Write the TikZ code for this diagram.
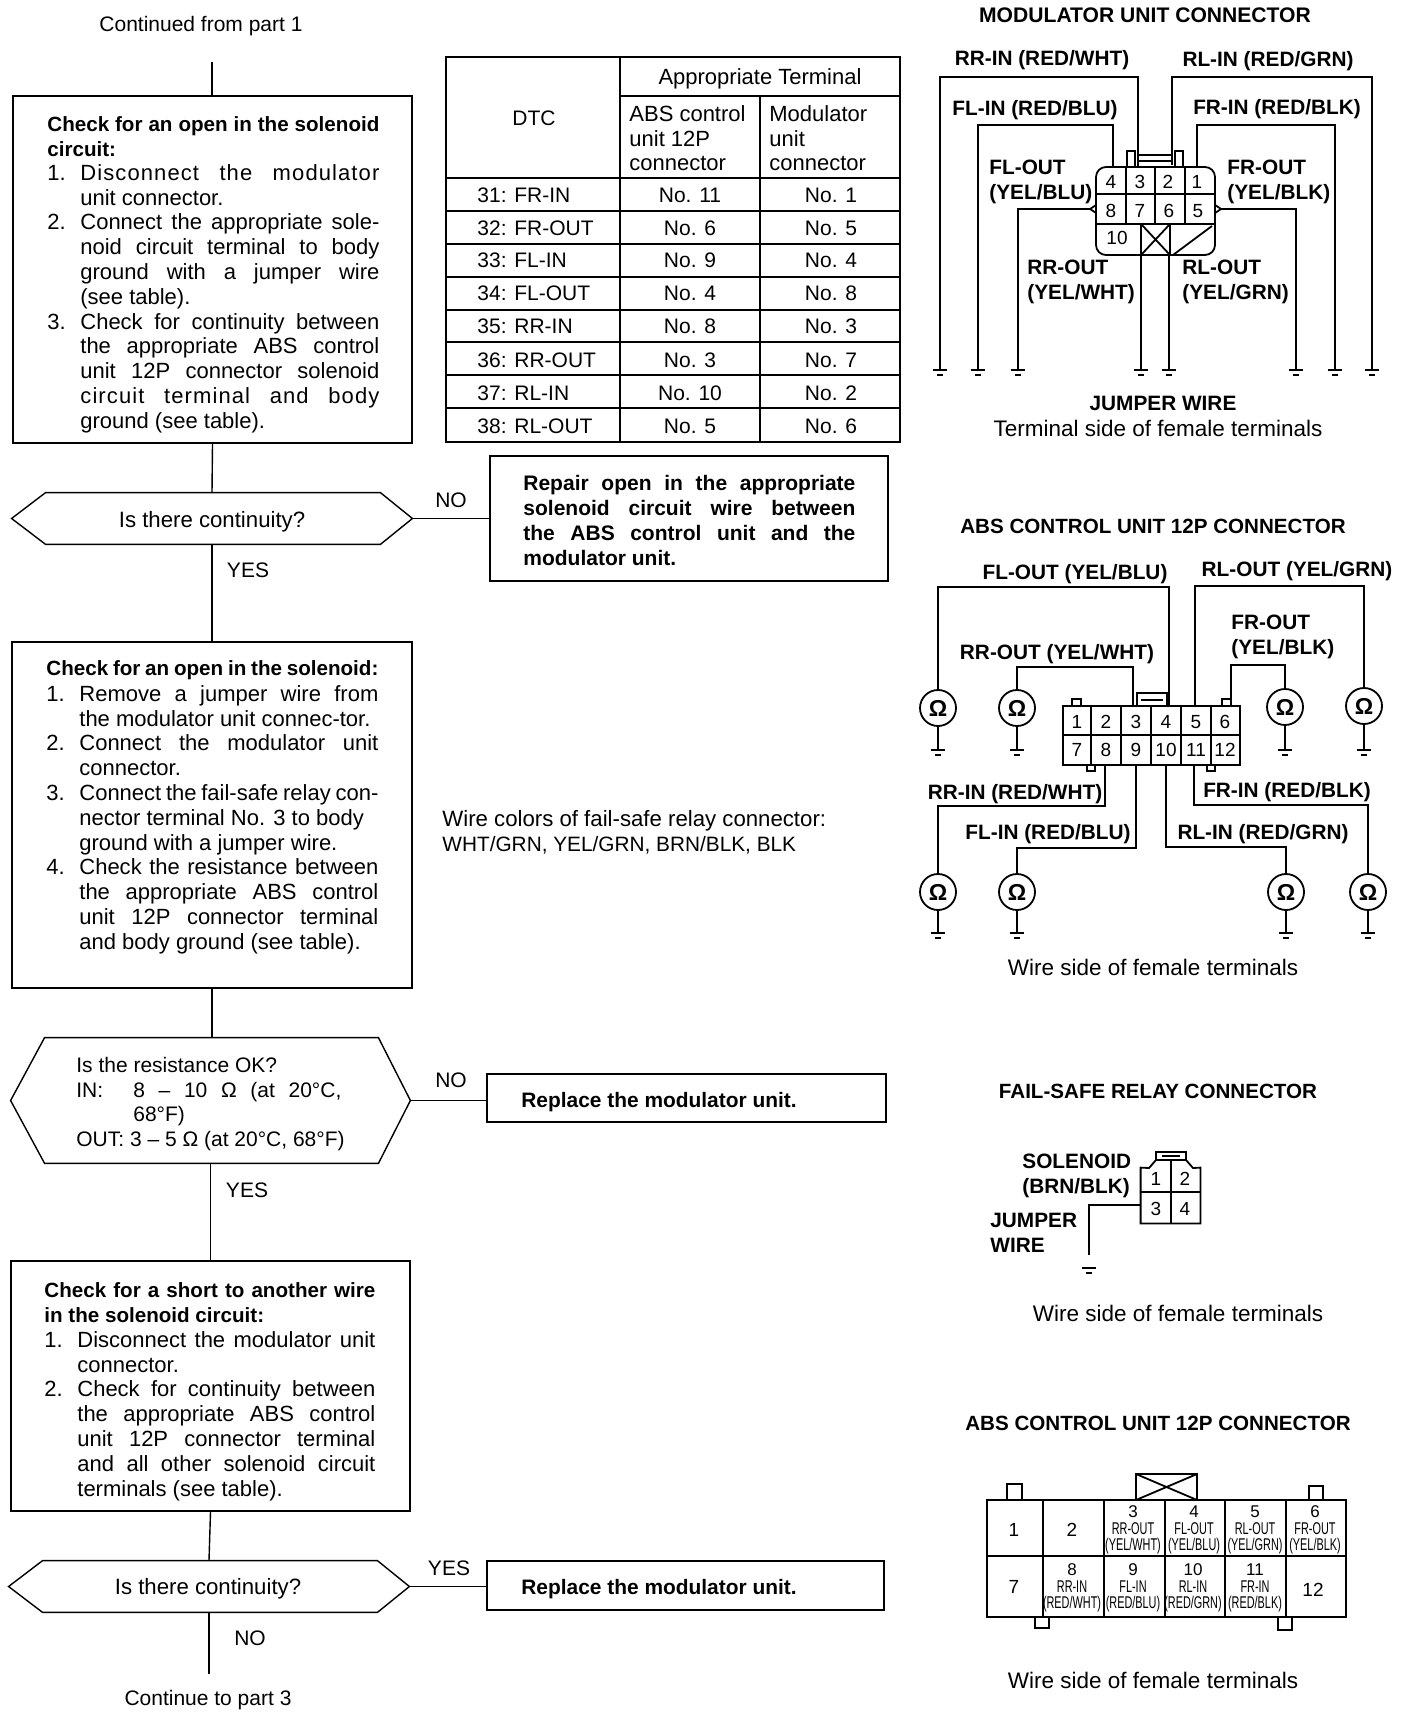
\documentclass[tikz,border=0pt]{standalone}
\usepackage{graphicx}
\usepackage{fontspec}
\setmainfont{Liberation Sans}
\usetikzlibrary{fit}
\newlength\ww \newlength\ii
\setlength\ii{16.5pt}
\newcommand\Lj[1]{\makebox[\ww][s]{#1}}
\newcommand\Ln[2]{\makebox[\ii][l]{#1}\makebox[\dimexpr\ww-\ii\relax][s]{#2}}
\newcommand\Lc[1]{\hspace*{\ii}\makebox[\dimexpr\ww-\ii\relax][s]{#1}}
\newcommand\Ld[1]{\hspace*{\ii}#1}
\newcommand\Sp[1]{{\addfontfeature{LetterSpace=5}#1}}
\tikzset{
  flowbox/.style={draw,line width=.8pt,inner sep=0pt},
  hexnode/.style={inner sep=0pt},
  hextext/.style={inner sep=0pt,align=left,font=\fontsize{11.1}{12.4}\selectfont},
  hexwide/.style={inner sep=0pt,align=left,font=\fontsize{10.5}{12.4}\selectfont},
  flow/.style={line width=.7pt},
  wire/.style={line width=.9pt},
  conn/.style={line width=.9pt},
  body/.style={inner sep=0pt,align=left,anchor=north west,font=\fontsize{11}{12.4}\selectfont},
  bbody/.style={inner sep=0pt,align=left,anchor=north west,font=\fontsize{10.3}{12.4}\selectfont},
  txt/.style={inner sep=0pt,font=\fontsize{10.5}{12}\selectfont},
  hdr/.style={inner sep=0pt,font=\fontsize{11}{12}\selectfont},
  caption/.style={inner sep=0pt,font=\fontsize{11.25}{12}\selectfont},
  lab/.style={inner sep=0pt,yshift=-1pt,font=\fontsize{10.4}{12.4}\bfseries\selectfont},
  leftlab/.style={inner sep=0pt,anchor=north west,align=left,font=\fontsize{10.4}{12.4}\bfseries\selectfont},
  ttl/.style={inner sep=0pt,font=\fontsize{10.3}{12}\bfseries\selectfont},
  num/.style={inner sep=0pt,font=\fontsize{9.5}{11}\selectfont},
  ohm/.style={draw,circle,line width=.9pt,minimum size=18pt,inner sep=0pt,font=\fontsize{11.5}{12}\bfseries\selectfont},
  tiny/.style={inner sep=0pt,font=\fontsize{8.5}{9}\selectfont},
}
\newcommand\hexo[1]{\draw[flow] (#1.west)--([xshift=17pt]#1.north west)--([xshift=-16pt]#1.north east)--(#1.east)--([xshift=-16pt]#1.south east)--([xshift=17pt]#1.south west)--cycle;}
\newcommand\gnd[1]{\draw[wire] ([xshift=-3.7pt]#1)--([xshift=3.7pt]#1) ([xshift=-1.5pt,yshift=-2.5pt]#1)--([xshift=1.5pt,yshift=-2.5pt]#1);}
\newcommand\cellt[6]{%
  \node[tiny] (#1n) at (#2,#3) {#4};
  \node[tiny] (#1l) at (#2,#3+17) {\scalebox{.64}[1]{#5}};
  \node[tiny] (#1c) at (#2,#3+34) {\scalebox{.64}[1]{#6}};}
\begin{document}
\begin{tikzpicture}[x=0.5pt,y=-0.5pt]
\path[fill=white,use as bounding box] (0,0) rectangle (1408,1716);

% ---------- flow column
\node[txt] (start) at (201,26) {Continued from part 1};
\coordinate (s0) at (212,62);
\node[flowbox,fit={(13,96)(412,443)}] (b1) {};
\setlength\ww{166pt}
\node[bbody] (b1t) at (47,116) {\bfseries\Lj{Check for an open in the solenoid}\\\bfseries circuit:};
\node[body] (b1u) at (47,164) {%
\Ln{1.}{\Sp{Disconnect the modulator}}\\
\Ld{unit connector.}\\
\Ln{2.}{Connect the appropriate sole-}\\
\Lc{noid circuit terminal to body}\\
\Lc{ground with a jumper wire}\\
\Ld{(see table).}\\
\Ln{3.}{Check for continuity between}\\
\Lc{the appropriate ABS control}\\
\Lc{unit 12P connector solenoid}\\
\Lc{\Sp{circuit terminal and body}}\\
\Ld{ground (see table).}};
\draw[flow] (s0)--(s0 |- b1.north);

\node[hexnode,minimum width=200pt,minimum height=25.5pt] (d1) at (212,518.5) {};
\hexo{d1}
\node[hextext] (d1t) at (212,522) {Is there continuity?};
\draw[flow] (b1.south)--(d1.north);
\node[flowbox,fit={(490,456)(888,581)}] (r1) {};
\node[bbody,font=\fontsize{10.5}{12.4}\selectfont] (r1t) at (523,475) {\bfseries\Lj{Repair open in the appropriate}\\
\bfseries\Lj{solenoid circuit wire between}\\
\bfseries\Lj{the ABS control unit and the}\\
\bfseries modulator unit.};
\draw[flow] (d1.east)--(r1.west |- d1.east);
\node[txt] (no1) at (451,500) {NO};
\node[txt] (yes1) at (248,570) {YES};

\node[flowbox,fit={(12,642)(412,988)}] (b2) {};
\draw[flow] (d1.south)--(b2.north);
\node[bbody] (b2t) at (46,660) {\bfseries\Lj{Check for an open in the solenoid:}};
\node[body] (b2u) at (46,685) {%
\Ln{1.}{Remove a jumper wire from}\\
\Ld{the modulator unit connec-tor.}\\
\Ln{2.}{Connect the modulator unit}\\
\Ld{connector.}\\
\Ln{3.}{Connect the fail-safe relay con-}\\
\Ld{nector terminal No. 3 to body}\\
\Ld{ground with a jumper wire.}\\
\Ln{4.}{Check the resistance between}\\
\Lc{the appropriate ABS control}\\
\Lc{unit 12P connector terminal}\\
\Ld{and body ground (see table).}};

\node[hexnode,minimum width=199.5pt,minimum height=62.5pt] (d2) at (210.5,1100.5) {};
\hexo{d2}
\node[hexwide] (d2t) at (210.5,1104) {%
Is the resistance OK?\\
\makebox[28.5pt][l]{IN:}\makebox[104pt][s]{8 -- 10 Ω (at 20°C,}\\
\hspace*{28.5pt}68°F)\\
OUT: 3 -- 5 Ω (at 20°C, 68°F)};
\draw[flow] (b2.south)--(b2.south |- d2.north);
\node[flowbox,fit={(487,1074)(886,1122)}] (r2) {};
\node[bbody,anchor=west,font=\fontsize{10.45}{12.4}\selectfont] (r2t) at (521,1102) {\bfseries Replace the modulator unit.};
\draw[flow] (d2.east)--(r2.west |- d2.east);
\node[txt] (no2) at (451,1080) {NO};
\node[txt] (yes2) at (247,1190) {YES};

\node[flowbox,fit={(11,1261)(410,1511)}] (b3) {};
\draw[flow] (d2.south)--(d2.south |- b3.north);
\setlength\ww{165.5pt}
\node[bbody] (b3t) at (44,1282) {\bfseries\Lj{Check for a short to another wire}\\\bfseries in the solenoid circuit:};
\node[body] (b3u) at (44,1331) {%
\Ln{1.}{Disconnect the modulator unit}\\
\Ld{connector.}\\
\Ln{2.}{Check for continuity between}\\
\Lc{the appropriate ABS control}\\
\Lc{unit 12P connector terminal}\\
\Lc{and all other solenoid circuit}\\
\Ld{terminals (see table).}};

\node[hexnode,minimum width=200pt,minimum height=25.5pt] (d3) at (209,1586.5) {};
\hexo{d3}
\node[hextext] (d3t) at (208,1589) {Is there continuity?};
\draw[flow] (b3.south)--(d3.north);
\node[flowbox,fit={(487,1561)(884,1610)}] (r3) {};
\node[bbody,anchor=west,font=\fontsize{10.45}{12.4}\selectfont] (r3t) at (521,1589) {\bfseries Replace the modulator unit.};
\draw[flow] (d3.east)--(r3.west |- d3.east);
\node[txt] (yes3) at (449,1568) {YES};
\node[txt] (no3) at (250,1638) {NO};
\coordinate (e0) at (209,1674);
\draw[flow] (d3.south)--(d3.south |- e0);
\node[txt] (end) at (208,1700) {Continue to part 3};

% ---------- table
\draw[line width=1.1pt] (446,57) rectangle (900,442);
\draw[line width=.8pt] (620,57)--(620,442) (760,96)--(760,442) (620,96)--(900,96);
\draw[line width=1pt] (446,178)--(900,178) (446,211)--(900,211) (446,244)--(900,244) (446,277)--(900,277) (446,310)--(900,310) (446,342)--(900,342) (446,375)--(900,375) (446,408)--(900,408);
\node[hdr] (th1) at (760,79) {Appropriate Terminal};
\node[txt] (th2) at (534,118) {DTC};
\node[body] (th3) at (629,105) {ABS control\\unit 12P\\connector};
\node[body] (th4) at (769,105) {Modulator\\unit\\connector};
\foreach \y/\a/\b/\c in {195/31: FR-IN/No. 11/No. 1,228/32: FR-OUT/No. 6/No. 5,260/33: FL-IN/No. 9/No. 4,293/34: FL-OUT/No. 4/No. 8,326/35: RR-IN/No. 8/No. 3,360/36: RR-OUT/No. 3/No. 7,393/37: RL-IN/No. 10/No. 2,426/38: RL-OUT/No. 5/No. 6}{
  \node[txt,anchor=west] (ra\y) at (477,\y) {\a};
  \node[txt] (rb\y) at (690,\y) {\b};
  \node[txt] (rc\y) at (831,\y) {\c};
}
\node[body] (wc) at (442,810) {\fontsize{11.1}{12.4}\selectfont Wire colors of fail-safe relay connector:\\\fontsize{10.4}{12.4}\selectfont WHT/GRN, YEL/GRN, BRN/BLK, BLK};

% ---------- modulator unit connector
\node[ttl,font=\fontsize{10.55}{12}\bfseries\selectfont] (t1) at (1145,15) {MODULATOR UNIT CONNECTOR};
\node[draw,conn,rounded corners=5pt,inner sep=0pt,fit={(1096,167)(1215,255)}] (mc) {};
\draw[conn] (1096,194)--(1215,194) (1096,224)--(1215,224)
 (1126,167)--(1126,224) (1155,167)--(1155,224) (1185,167)--(1185,224)
 (1141,224)--(1141,255) (1170,224)--(1170,255)
 (1141,224)--(1170,255) (1170,224)--(1141,255) (1173,255)--(1212,226);
\draw[conn] (1127,167)--(1127,151)--(1135,151)--(1135,167) (1175,167)--(1175,151)--(1183,151)--(1183,167) (1137,155)--(1172,155) (1137,161)--(1172,161);
\draw[conn] (1096,205)--(1090,209)--(1096,213) (1215,205)--(1221,209)--(1215,213);
\foreach \n/\x/\y in {4/1111/182,3/1140/182,2/1168/182,1/1197/182,8/1111/211,7/1140/211,6/1169/211,5/1198/211,10/1117/238}{
  \node[num] (mn\n) at (\x,\y) {\n};
}
\coordinate (mg1) at (940,370); \coordinate (mg2) at (978,370); \coordinate (mg3) at (1018,370);
\coordinate (mg4) at (1141,370); \coordinate (mg5) at (1169,370); \coordinate (mg6) at (1296,370);
\coordinate (mg7) at (1335,370); \coordinate (mg8) at (1372,370);
\draw[wire] (mg1) |- (1138,77) -- (1138,167);
\draw[wire] (mg2) |- (1113,125) -- (1113,167);
\draw[wire] (mg3) |- (1090,209);
\draw[wire] (mg4) -- (mg4 |- mc.south);
\draw[wire] (mg5) -- (mg5 |- mc.south);
\draw[wire] (mg6) |- (1221,209);
\draw[wire] (mg7) |- (1197,125) -- (1197,167);
\draw[wire] (mg8) |- (1172,77) -- (1172,165);
\foreach \g in {mg1,mg2,mg3,mg4,mg5,mg6,mg7,mg8}{\gnd{\g}}
\node[lab] (ml1) at (1042,58) {RR-IN (RED/WHT)};
\node[lab] (ml2) at (1268,59) {RL-IN (RED/GRN)};
\node[lab] (ml3) at (1035,108) {FL-IN (RED/BLU)};
\node[lab] (ml4) at (1277,107) {FR-IN (RED/BLK)};
\node[leftlab] (ml5) at (989,160) {FL-OUT\\(YEL/BLU)};
\node[leftlab] (ml6) at (1227,160) {FR-OUT\\(YEL/BLK)};
\node[leftlab] (ml7) at (1027,260) {RR-OUT\\(YEL/WHT)};
\node[leftlab] (ml8) at (1182,260) {RL-OUT\\(YEL/GRN)};
\node[lab] (ml9) at (1163,401) {JUMPER WIRE};
\node[caption] (ml10) at (1158,428) {Terminal side of female terminals};

% ---------- ABS 12P (ohmmeter)
\node[ttl] (t2) at (1153,526) {ABS CONTROL UNIT 12P CONNECTOR};
\node[draw,conn,inner sep=0pt,fit={(1063,706)(1240,765)}] (ac) {};
\draw[conn] (1063,735)--(1240,735);
\foreach \x in {1091,1121,1151,1181,1211}{\draw[conn] (\x,706)--(\x,765);}
\draw[conn] (1072,706)--(1072,699)--(1081,699)--(1081,706) (1222,706)--(1222,699)--(1231,699)--(1231,706) (1137,706)--(1137,693)--(1167,693)--(1167,706) (1141,700)--(1163,700);
\draw[conn] (1087,765)--(1087,771)--(1095,771)--(1095,765) (1207,765)--(1207,771)--(1215,771)--(1215,765);
\foreach \n/\x in {1/1077,2/1106,3/1136,4/1166,5/1196,6/1225}{\node[num] (at\n) at (\x,722) {\n};}
\foreach \n/\x in {7/1077,8/1106,9/1136,10/1166,11/1196,12/1225}{\node[num] (at\n) at (\x,750) {\n};}
\foreach \n/\x/\y in {1/938/708,2/1017/708,3/1285/707,4/1364/706,5/938/892,6/1017/892,7/1286/892,8/1368/892}{
  \node[ohm] (o\n) at (\x,\y) {Ω};
}
\foreach \n/\x/\y in {1/938/750,2/1017/750,3/1285/750,4/1364/750,5/938/933,6/1017/933,7/1286/933,8/1368/933}{
  \coordinate (og\n) at (\x,\y);
  \draw[wire] (o\n.south)--(og\n);
  \gnd{og\n}
}
\draw[wire] (o1.north) |- (1169,587) -- (1169,706);
\draw[wire] (o2.north) |- (1133,667) -- (1133,706);
\draw[wire] (o3.north) |- (1231,665) -- (1231,699);
\draw[wire] (o4.north) |- (1195,586) -- (1195,706);
\draw[wire] (o5.north) |- (1105,806) -- (1105,765);
\draw[wire] (o6.north) |- (1136,848) -- (1136,765);
\draw[wire] (o7.north) |- (1166,847) -- (1166,765);
\draw[wire] (o8.north) |- (1194,805) -- (1194,765);
\node[lab] (al1) at (1075,572) {FL-OUT (YEL/BLU)};
\node[lab] (al2) at (1297,569) {RL-OUT (YEL/GRN)};
\node[leftlab] (al3) at (1231,615) {FR-OUT\\(YEL/BLK)};
\node[lab] (al4) at (1057,652) {RR-OUT (YEL/WHT)};
\node[lab] (al5) at (1015,792) {RR-IN (RED/WHT)};
\node[lab] (al6) at (1287,790) {FR-IN (RED/BLK)};
\node[lab] (al7) at (1048,832) {FL-IN (RED/BLU)};
\node[lab] (al8) at (1263,832) {RL-IN (RED/GRN)};
\node[caption] (al9) at (1153,967) {Wire side of female terminals};

% ---------- fail-safe relay
\node[ttl] (t3) at (1158,1091) {FAIL-SAFE RELAY CONNECTOR};
\node[inner sep=0pt,fit={(1141,1168)(1200,1223)}] (fc) {};
\draw[conn] (fc.north west)--(fc.south west)--(fc.south east)--(fc.north east)--(1193,1168)--(1186,1160)--(1156,1160)--(1149,1168)--cycle;
\draw[conn] (1141,1192)--(1200,1192) (1171,1160)--(1171,1223);
\draw[conn] (1156,1160)--(1156,1152)--(1186,1152)--(1186,1160) (1162,1156)--(1180,1156);
\foreach \n/\x/\y in {1/1156/1179,2/1185/1179,3/1156/1209,4/1185/1209}{\node[num] (fn\n) at (\x,\y) {\n};}
\coordinate (fg) at (1089,1268);
\draw[line width=.7pt] (fc.west |- 0,1205) -| (1089,1255);
\gnd{fg}
\node[leftlab] (fl1) at (1022,1154) {SOLENOID\\(BRN/BLK)};
\node[leftlab] (fl2) at (990,1213) {JUMPER\\WIRE};
\node[caption] (fl3) at (1178,1313) {Wire side of female terminals};

% ---------- ABS 12P (terminal map)
\node[ttl] (t4) at (1158,1423) {ABS CONTROL UNIT 12P CONNECTOR};
\node[draw,conn,inner sep=0pt,fit={(987,1500)(1346,1617)}] (bc) {};
\draw[conn] (987,1556)--(1346,1556);
\foreach \x in {1043,1104,1165,1225,1286}{\draw[conn] (\x,1500)--(\x,1617);}
\draw[conn] (1007,1500)--(1007,1484)--(1022,1484)--(1022,1500) (1309,1500)--(1309,1486)--(1323,1486)--(1323,1500);
\draw[conn] (1136,1500) rectangle (1197,1474) (1136,1474)--(1197,1500) (1197,1474)--(1136,1500);
\draw[conn] (1035,1617)--(1035,1628)--(1049,1628)--(1049,1617) (1278,1617)--(1278,1630)--(1292,1630)--(1292,1617);
\node[num] (bn1) at (1014,1530) {1};
\node[num] (bn2) at (1072,1530) {2};
\node[num] (bn7) at (1014,1587) {7};
\node[num] (bn12) at (1313,1590) {12};
\cellt{c3}{1133}{1512}{3}{RR-OUT}{(YEL/WHT)}
\cellt{c4}{1194}{1512}{4}{FL-OUT}{(YEL/BLU)}
\cellt{c5}{1255}{1512}{5}{RL-OUT}{(YEL/GRN)}
\cellt{c6}{1315}{1512}{6}{FR-OUT}{(YEL/BLK)}
\cellt{c8}{1072}{1570}{8}{RR-IN}{(RED/WHT)}
\cellt{c9}{1133}{1570}{9}{FL-IN}{(RED/BLU)}
\cellt{c10}{1193}{1570}{10}{RL-IN}{(RED/GRN)}
\cellt{c11}{1255}{1570}{11}{FR-IN}{(RED/BLK)}
\node[caption] (bt) at (1153,1680) {Wire side of female terminals};
\end{tikzpicture}
\end{document}
